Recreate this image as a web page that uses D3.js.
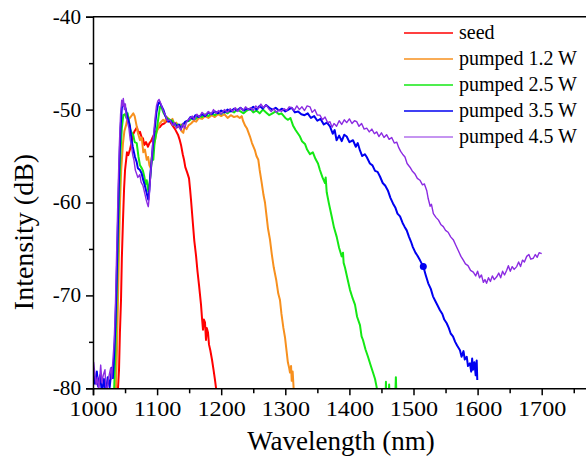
<html>

<head>
<meta charset="utf-8">
<script src="https://d3js.org/d3.v7.min.js"></script>

<style>

    body {
        margin: 0;
        background: white;
    }

    svg text {
        font-family: "Liberation Serif", "Times New Roman", serif;
        fill: black;
    }

    .axis path, .axis line {
        stroke: black;
        stroke-width: 1.5;
    }

    .curve {
        fill: none;
        stroke-linejoin: round;
    }

</style>

</head>

<body>

    <svg id='chart' width=586 height=457></svg>

<script>

    // series names + colours (legend order)
    let names = ['seed', 'pumped 1.2 W', 'pumped 2.5 W', 'pumped 3.5 W', 'pumped 4.5 W'];
    let colors = ['#ff0000', '#f7901e', '#14e814', '#0000f0', '#8b2be2'];

    let xTicks = [1000, 1100, 1200, 1300, 1400, 1500, 1600, 1700];
    let yTicks = [-80, -70, -60, -50, -40];

    // [wavelength nm, intensity dB]
    let seed = [[1035, -82], [1039, -80], [1040.6, -78], [1042, -74], [1043.7, -70.5], [1045, -66], [1046.8, -61.9],
        [1048.5, -58.5], [1050, -56.5], [1053, -54.6], [1055, -54.9], [1057.7, -54.3], [1060, -53.6], [1062.4, -52.7],
        [1065, -52.3], [1068.6, -51.9], [1071, -52.6], [1073.3, -52.4], [1076, -53.0], [1078, -53.1], [1080, -53.8],
        [1082.7, -53.5], [1085.8, -54.0], [1088, -53.6], [1090.5, -53.4], [1093, -53.0], [1095.2, -52.7], [1098, -52.4],
        [1101.4, -52.0], [1104, -51.9], [1107.6, -51.6], [1111, -51.5], [1113.9, -51.3], [1117, -51.2], [1120.1, -51.3],
        [1124, -51.7], [1128, -52.1], [1132.6, -52.7], [1135, -53.2], [1137.3, -53.8], [1140, -54.8], [1142, -55.4],
        [1144, -56.2], [1146.6, -56.7], [1148, -57.0], [1149.8, -57.4], [1151.5, -58.6], [1152.9, -59.7], [1156, -62.4],
        [1158, -64.1], [1160.7, -65.7], [1163, -67.4], [1165.4, -68.9], [1168.5, -71.0], [1170, -72.4], [1171.6, -73.7],
        [1173, -72.6], [1174.7, -72.9], [1176.3, -74.8], [1177.5, -73.5], [1179.4, -74.0], [1181, -75.3], [1183, -75.9],
        [1185.6, -76.9], [1188, -78.0], [1190.3, -79.1], [1192, -80], [1194, -82]];

    let pumped12 = [[1032, -82], [1035.9, -80], [1037.4, -76], [1039, -70.5], [1040.6, -65], [1042.1, -60.1], [1044, -56.5],
        [1046.8, -53.6], [1049, -52.3], [1051.5, -51.7], [1053, -51.2], [1056.2, -51.0], [1058.5, -50.8], [1060.8, -50.6],
        [1062.9, -50.4], [1065, -50.7], [1068.2, -51.8], [1070, -52.5], [1073.3, -53.3], [1076, -53.0], [1078.5, -54.6],
        [1081, -54.3], [1083.8, -55.4], [1086, -55.1], [1088, -56.0], [1090, -56.3], [1092, -55.0], [1094, -54.2],
        [1096.7, -53.3], [1099, -52.5], [1101.4, -52.0], [1104, -51.5], [1109.2, -51.1], [1112, -51.3], [1115, -50.8],
        [1118, -51.0], [1121, -51.2], [1124, -51.0], [1127, -51.6], [1130, -51.4], [1133, -51.9], [1136, -51.6],
        [1138, -52.3], [1140.9, -52.5], [1143, -51.8], [1146, -52.1], [1149, -51.7], [1153, -51.5], [1157, -51.2],
        [1161, -51.3], [1165, -50.9], [1170, -51.0], [1175, -50.7], [1180, -50.9], [1185, -50.6], [1190, -50.8],
        [1195, -50.5], [1200, -50.7], [1205, -50.5], [1210, -50.9], [1215, -50.6], [1220, -50.8], [1225, -50.7],
        [1229, -50.9], [1232, -50.7], [1234, -51.2], [1237.1, -51.7], [1240, -52.0], [1244.9, -52.9], [1248, -53.6],
        [1252.7, -54.4], [1255, -55.0], [1257.9, -55.4], [1260, -56.5], [1263, -57.8], [1266, -59.2], [1268.3, -60.0],
        [1271, -61.6], [1273, -62.8], [1276.1, -64.0], [1279, -65.6], [1282, -67.0], [1286, -68.4], [1289, -69.8],
        [1291.7, -70.5], [1294, -72.0], [1297, -73.5], [1299.5, -74.5], [1302, -76.0], [1304, -77.2], [1306, -77.8],
        [1307.3, -78.3], [1309, -77.6], [1310, -79.2], [1311.5, -78.2], [1313, -80], [1315, -82]];

    let pumped25 = [[1030, -82], [1033, -80], [1035, -76], [1037, -70], [1039, -64], [1041, -58.5], [1043, -54.5],
        [1045, -52], [1047.3, -50.6], [1049.9, -50.5], [1052, -50.9], [1054, -50.4], [1056, -51.2], [1058, -52.1],
        [1060.4, -52.5], [1063, -52.8], [1065, -53.5], [1068.2, -53.6], [1071, -55.1], [1073.3, -56.0], [1076, -56.3],
        [1078, -56.6], [1080, -57.2], [1082, -58.0], [1083.8, -57.6], [1086.3, -58.8], [1088, -58.1], [1090, -56.8],
        [1092, -55.0], [1094.1, -55.4], [1096, -53.6], [1099.4, -52.2], [1102, -50.9], [1104.5, -49.7], [1107, -49.8],
        [1109.7, -50.3], [1112.3, -50.6], [1115, -50.9], [1120.1, -51.1], [1124, -51.2], [1128, -51.7], [1132, -51.6],
        [1135.7, -51.9], [1139, -51.6], [1142, -51.5], [1146, -51.3], [1150, -51.2], [1155, -50.9], [1160, -51.0],
        [1165, -50.7], [1170, -50.8], [1175, -50.5], [1180, -50.7], [1185, -50.4], [1190, -50.6], [1195, -50.3],
        [1200, -50.5], [1205, -50.2], [1210, -50.4], [1215, -50.1], [1220, -50.3], [1225, -50.0], [1230, -50.2],
        [1235, -50.4], [1240, -50.1], [1245, -49.9], [1250, -50.3], [1255, -50.1], [1260, -50.4], [1265, -50.0],
        [1270, -50.3], [1275, -50.6], [1280, -50.4], [1285, -50.2], [1290, -50.5], [1294, -50.4], [1296.4, -50.6],
        [1300, -50.9], [1304.2, -51.1], [1308, -50.9], [1312, -51.7], [1316, -52.2], [1322.9, -52.9], [1326, -53.4],
        [1330.7, -53.7], [1334, -54.3], [1338.5, -54.8], [1343, -54.6], [1347, -55.3], [1351, -55.8], [1354, -56.5],
        [1358, -57.3], [1361.9, -57.9], [1363, -57.3], [1364.6, -58.9], [1368, -60.1], [1372.4, -61.5], [1376, -62.7],
        [1380.2, -63.7], [1384, -64.9], [1388, -65.8], [1390, -65.4], [1391, -66.5], [1393.1, -67.0], [1397, -68.2],
        [1400.9, -69.4], [1405, -70.3], [1408.7, -71.0], [1412, -72.3], [1416.5, -73.2], [1419, -74.4], [1421.2, -74.8],
        [1425, -75.8], [1429, -76.6], [1433, -77.5], [1436.8, -78.3], [1440, -79.0], [1442.6, -79.9], [1444, -82],
        [1456, -82], [1457, -79.3], [1458, -82], [1461, -82], [1462, -79.6], [1463, -82], [1471, -82], [1472.5, -78.8],
        [1474, -82]];

    let pumped35 = [[1000, -78.0], [1003, -79.5], [1006, -78.2], [1008, -79.8], [1011, -78.6], [1014, -80.5], [1017, -79.0],
        [1020, -80.5], [1023, -78.8], [1026, -79.9], [1029, -77.8], [1031, -78.9], [1033, -76.5], [1035, -73], [1037, -68],
        [1039, -62], [1041, -56], [1043, -52], [1045, -49.8], [1047.3, -49.3], [1049, -49.6], [1051, -49.9], [1053, -50.6],
        [1055.5, -51.2], [1057.7, -51.8], [1060, -53.2], [1062, -54.0], [1065.5, -55.1], [1068, -55.6], [1070, -56.3],
        [1073.3, -56.5], [1076, -56.9], [1078.5, -57.6], [1081, -58.2], [1083.8, -59.0], [1086.3, -59.7], [1088, -58.6],
        [1089.5, -57.0], [1091.6, -55.4], [1094, -53.4], [1096.7, -51.8], [1099, -50.3], [1101.9, -49.3], [1104, -49.2],
        [1106, -49.5], [1109.7, -50.0], [1113, -50.7], [1117.5, -51.3], [1121, -51.2], [1125, -51.6], [1128, -51.5],
        [1131, -51.9], [1134, -51.6], [1137, -52.1], [1140, -51.7], [1144, -51.3], [1148, -51.2], [1152, -50.8],
        [1156, -51.0], [1160, -50.6], [1165, -50.8], [1170, -50.5], [1175, -50.7], [1180, -50.3], [1185, -50.5],
        [1190, -50.2], [1195, -50.4], [1200, -50.1], [1205, -50.3], [1210, -50.0], [1215, -50.2], [1220, -49.9],
        [1225, -50.1], [1230, -49.8], [1235, -50.1], [1240, -49.9], [1245, -50.0], [1250, -49.7], [1255, -50.0],
        [1260, -49.6], [1265, -49.9], [1270, -49.5], [1275, -49.8], [1280, -50.0], [1285, -49.8], [1290, -50.1],
        [1295, -49.9], [1300, -50.2], [1305, -50.0], [1310, -49.8], [1315, -50.3], [1320, -50.2], [1325, -50.5],
        [1330, -50.6], [1335, -50.4], [1340, -50.9], [1345, -50.7], [1350, -51.2], [1355, -51.0], [1360, -51.6],
        [1365, -51.4], [1369.7, -51.8], [1374, -52.6], [1377, -52.2], [1380, -53.3], [1384, -52.8], [1388, -53.4],
        [1392, -52.7], [1395.8, -52.9], [1400, -53.5], [1405.6, -53.3], [1410, -54.0], [1413, -53.6], [1416.5, -54.4],
        [1420, -55.0], [1424, -54.8], [1427, -55.1], [1432, -55.8], [1436, -56.0], [1440, -56.6], [1444, -56.7],
        [1447.7, -57.2], [1452, -57.9], [1456, -58.2], [1460, -58.7], [1464, -59.5], [1468, -60.1], [1472, -60.6],
        [1475, -61.2], [1479, -61.5], [1483, -62.2], [1486, -62.6], [1489.4, -63.0], [1493, -63.7], [1496, -64.2],
        [1499, -64.8], [1503, -65.4], [1506, -65.7], [1510, -66.2], [1515.3, -66.9], [1519, -67.8], [1523, -68.7],
        [1527, -69.3], [1530.4, -70.1], [1534, -70.6], [1537, -71.0], [1541.3, -71.6], [1545, -72.0], [1548, -72.6],
        [1551.8, -73.0], [1555, -73.5], [1558, -74.1], [1561.6, -74.4], [1565, -75.0], [1568, -75.4], [1572.5, -75.9],
        [1575, -76.6], [1578, -76.0], [1580, -76.9], [1583, -76.6], [1585, -77.6], [1588, -77.3], [1590, -78.2],
        [1591.5, -76.8], [1592.8, -78.0], [1595, -77.2], [1597, -78.6], [1598.6, -77.0], [1599.5, -79.1]];

    let pumped45 = [[1000, -80.5], [1001, -77.2], [1003, -78.5], [1005, -79.6], [1007, -78.8], [1009, -80.3], [1012, -77.5],
        [1014, -79.4], [1016, -78.6], [1018.7, -78.0], [1020, -79.8], [1022, -80.4], [1024, -79.0], [1027.6, -77.8],
        [1029, -79.0], [1031, -77.0], [1033, -75.0], [1035, -71], [1037, -65], [1039, -59], [1041, -54], [1043, -50.5],
        [1044.8, -49.0], [1046, -49.6], [1047.3, -48.8], [1049, -50.0], [1050.5, -49.4], [1052, -50.8], [1054, -51.4],
        [1056, -52.0], [1058, -53.2], [1060, -53.9], [1062, -54.9], [1064, -55.5], [1066, -56.5], [1068, -56.9],
        [1070, -57.3], [1073, -57.0], [1075, -57.8], [1078, -58.2], [1081, -59.1], [1083, -59.7], [1085, -60.2],
        [1086.3, -60.45], [1087.5, -59.6], [1089, -58.0], [1091, -55.8], [1093, -53.8], [1095, -52.3], [1097, -50.8],
        [1099, -49.6], [1101, -49.1], [1103, -48.9], [1105, -49.2], [1107, -49.6], [1110, -50.2], [1113, -50.6],
        [1116, -51.2], [1120, -51.1], [1124, -51.7], [1127, -51.4], [1130, -52.0], [1133, -51.7], [1137, -52.2],
        [1140, -51.5], [1143, -52.0], [1146, -51.3], [1150, -51.0], [1155, -50.7], [1158, -51.1], [1162, -50.5],
        [1166, -50.8], [1170, -50.3], [1175, -50.6], [1180, -50.2], [1184, -50.5], [1188, -50.0], [1192, -50.4],
        [1196, -50.1], [1200, -50.5], [1205, -50.0], [1210, -50.3], [1214, -49.9], [1218, -50.2], [1222, -49.8],
        [1226, -50.2], [1230, -49.8], [1234, -50.1], [1238, -49.7], [1242, -50.0], [1246, -49.8], [1250, -50.1],
        [1254, -49.6], [1258, -49.9], [1262, -49.4], [1266, -49.8], [1270, -49.5], [1274, -49.9], [1278, -50.2],
        [1282, -49.9], [1286, -50.3], [1290, -50.0], [1294, -50.2], [1298, -49.9], [1302, -50.1], [1306, -49.7],
        [1310, -49.8], [1314, -50.1], [1318, -49.6], [1322, -50.0], [1326, -49.7], [1330, -50.1], [1334, -49.6],
        [1338.5, -49.7], [1342, -50.3], [1346, -50.0], [1350, -50.6], [1354, -50.6], [1358, -51.1], [1362, -50.8],
        [1366, -51.4], [1369.7, -51.3], [1373, -51.9], [1376, -51.5], [1380, -51.8], [1384, -51.2], [1388, -51.6],
        [1392, -51.1], [1395.8, -51.4], [1400, -51.0], [1404, -51.5], [1408, -51.2], [1411.4, -51.3], [1415, -51.8],
        [1419, -51.5], [1423, -52.1], [1427, -52.0], [1431, -52.4], [1435, -52.1], [1439, -52.6], [1442.6, -52.4],
        [1446, -52.9], [1450, -52.5], [1454, -53.0], [1458, -52.7], [1462, -53.2], [1466, -53.0], [1470, -53.6],
        [1473.8, -53.5], [1477, -54.1], [1480, -54.5], [1483, -54.8], [1486.7, -55.1], [1490, -55.8], [1494.5, -56.2],
        [1498, -56.6], [1502, -56.9], [1506, -57.4], [1510, -57.6], [1514, -58.1], [1517, -58.0], [1520.6, -58.7],
        [1523, -59.6], [1526, -60.4], [1528, -60.2], [1531, -61.2], [1535, -61.6], [1539, -61.9], [1543, -62.4],
        [1546.5, -62.6], [1550, -63.0], [1554, -63.2], [1558, -63.7], [1562, -64.0], [1566, -64.6], [1570, -65.2],
        [1574, -65.8], [1577.7, -66.2], [1581, -66.6], [1585, -66.8], [1589, -67.3], [1593.3, -67.5], [1597, -67.9],
        [1600, -67.4], [1603, -68.1], [1606, -67.8], [1609, -68.6], [1611.5, -68.3], [1614, -68.7], [1617, -68.1],
        [1620, -68.5], [1623, -67.9], [1626, -68.3], [1629.8, -68.0], [1633, -67.6], [1636, -68.1], [1639, -67.4],
        [1642, -67.8], [1645.4, -67.3], [1648, -66.8], [1651, -67.4], [1654, -66.9], [1657, -67.2], [1661, -66.9],
        [1664, -66.4], [1667, -66.9], [1670, -66.2], [1673, -66.4], [1676.6, -65.8], [1680, -65.6], [1683, -66.1],
        [1686.9, -66.0], [1690, -65.6], [1693, -65.9], [1696, -65.4], [1700, -65.5]];

    let series = [seed, pumped12, pumped25, pumped35, pumped45];
    let widths = [2, 2, 2, 2, 1.4];

    // single marker sitting on the 3.5 W curve
    let marker = [[1515.3, -66.9]];

    let svg = d3.select('#chart');
    let margin = {top: 16.7, left: 93, bottom: 68.7};
    let height = +svg.attr('height') - margin.top - margin.bottom;

    let x = d3.scaleLinear()
        .domain([1000, 1780])
        .range([margin.left, margin.left + 7.8 * 64.1]);

    let y = d3.scaleLinear()
        .domain([-80, -40])
        .range([margin.top + height, margin.top]);

    svg.append('clipPath')
        .attr('id', 'plotclip')
      .append('rect')
        .attr('x', x(1000))
        .attr('y', y(-40))
        .attr('width', x(1780) - x(1000))
        .attr('height', y(-80) - y(-40));

    let line = d3.line()
        .x(d => x(d[0]))
        .y(d => y(d[1]));

    let plot = svg.append('g').attr('clip-path', 'url(#plotclip)');

    plot.selectAll('.curve')
        .data(series)
      .enter()
        .append('path')
        .classed('curve', true)
        .attr('d', line)
        .attr('stroke', (d,i) => colors[i])
        .attr('stroke-width', (d,i) => widths[i]);

    plot.selectAll('.marker')
        .data(marker)
      .enter()
        .append('circle')
        .classed('marker', true)
        .attr('cx', d => x(d[0]))
        .attr('cy', d => y(d[1]))
        .attr('r', 3.5)
        .attr('fill', colors[3]);

    // the original's lettering is a little wider than the font, stretch it
    function widen(sel, k) {
        sel.each(function() {
            let len = this.getComputedTextLength();
            d3.select(this)
                .attr('textLength', len * k)
                .attr('lengthAdjust', 'spacingAndGlyphs');
        });
    }

    // axes: major ticks with labels, minor ticks in between
    let xAxis = svg.append('g')
        .attr('class', 'axis')
        .attr('transform', 'translate(0,' + y(-80) + ')')
        .call(d3.axisBottom(x).tickValues(xTicks).tickSize(7).tickPadding(5).tickFormat(d => String(d)));
    xAxis.selectAll('text')
        .style('font-family', '"Liberation Serif", serif')
        .style('font-size', '22px');
    widen(xAxis.selectAll('text'), 1.1);

    svg.append('g')
        .attr('class', 'axis')
        .attr('transform', 'translate(0,' + y(-80) + ')')
        .call(d3.axisBottom(x).tickValues(d3.range(1050, 1800, 100)).tickSize(5).tickFormat(''))
        .select('.domain').remove();

    // plain hyphen for the minus sign, as in the original
    let yAxis = svg.append('g')
        .attr('class', 'axis')
        .attr('transform', 'translate(' + x(1000) + ',0)')
        .call(d3.axisLeft(y).tickValues(yTicks).tickSize(7).tickPadding(5).tickFormat(d => String(d)));
    yAxis.selectAll('text')
        .style('font-family', '"Liberation Serif", serif')
        .style('font-size', '20px');
    widen(yAxis.selectAll('text'), 1.06);

    svg.append('g')
        .attr('class', 'axis')
        .attr('transform', 'translate(' + x(1000) + ',0)')
        .call(d3.axisLeft(y).tickValues([-75, -65, -55, -45]).tickSize(4).tickFormat(''))
        .select('.domain').remove();

    // top frame line
    svg.append('line')
        .attr('x1', x(1000)).attr('x2', x(1780))
        .attr('y1', y(-40)).attr('y2', y(-40))
        .attr('stroke', 'black')
        .attr('stroke-width', 1.5);

    svg.append('text')
        .attr('x', 341)
        .attr('y', 450)
        .attr('text-anchor', 'middle')
        .style('font-family', '"Liberation Serif", serif')
        .style('font-size', '27px')
        .text('Wavelength (nm)');

    svg.append('text')
        .attr('transform', 'translate(33,232) rotate(-90)')
        .attr('text-anchor', 'middle')
        .style('font-family', '"Liberation Serif", serif')
        .style('font-size', '28px')
        .text('Intensity (dB)');

    // legend
    let legend = svg.selectAll('.legend')
        .data(names)
      .enter()
        .append('g')
        .classed('legend', true)
        .attr('transform', (d,i) => 'translate(404,' + (33 + i * 26) + ')');

    legend.append('line')
        .attr('x1', 0).attr('x2', 49)
        .attr('stroke', (d,i) => colors[i])
        .attr('stroke-width', (d,i) => i == 4 ? 1 : 1.6);

    legend.append('text')
        .attr('x', 55)
        .attr('y', 6)
        .style('font-family', '"Liberation Serif", serif')
        .style('font-size', '20px')
        .text(d => d);

</script>

</body>

</html>
